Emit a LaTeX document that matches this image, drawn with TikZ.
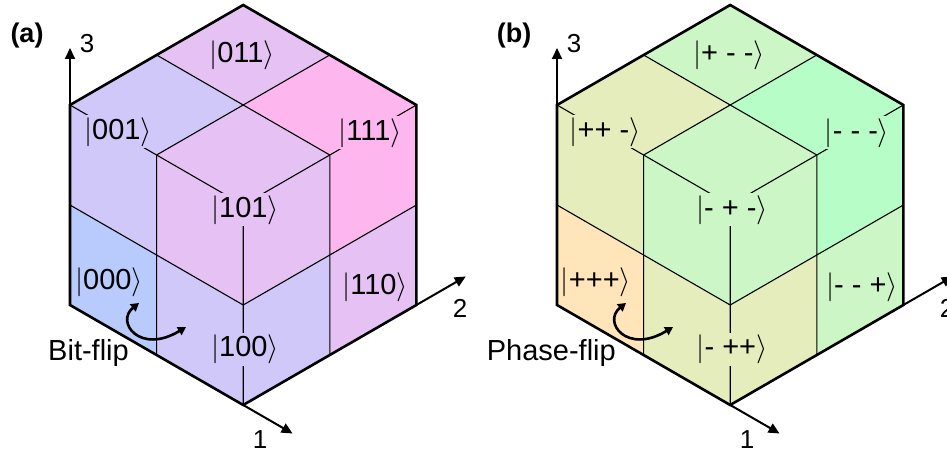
\RequirePackage{fix-cm}
\documentclass[tikz,border=0pt]{standalone}
\usepackage{fontspec}
\setmainfont{Liberation Sans}
\usetikzlibrary{arrows.meta}
\definecolor{aA}{HTML}{B9CBFC}
\definecolor{aB}{HTML}{CFC8F8}
\definecolor{aC}{HTML}{E6C1F3}
\definecolor{aD}{HTML}{FDB7EE}
\definecolor{bA}{HTML}{FFE5B9}
\definecolor{bB}{HTML}{E5EDBC}
\definecolor{bC}{HTML}{CCF6C5}
\definecolor{bD}{HTML}{B7FDC7}
\newcommand\ket[1]{$|$#1$\rangle$}
\tikzset{
  iso/.style={shift={(70pt,148pt)}, x={(86.6pt,-50pt)}, y={(86.6pt,50pt)}, z={(0pt,100pt)}},
  gridline/.style={line width=1.1pt, draw=black},
  outline/.style={line width=2.6pt, draw=black, line join=miter},
  axisarrow/.style={line width=2pt, -{Triangle[length=11pt,width=10pt]}},
  fliparrow/.style={line width=2.6pt, {Triangle[length=8pt,width=9pt]}-{Triangle[length=8pt,width=9pt]}},
  ket/.style={inner sep=2pt, font=\fontsize{29}{31}\selectfont},
  axlabel/.style={inner sep=0pt, font=\fontsize{26}{28}\selectfont},
  paneltag/.style={inner sep=0pt, font=\fontsize{27}{29}\selectfont\bfseries},
  fliptext/.style={inner sep=0pt, font=\fontsize{29}{31}\selectfont},
}
\newcommand\cubepanel[9]{%
  \begin{scope}[iso]
    \coordinate (LL) at (0,0,0);
    \coordinate (B) at (2,0,0);
    \coordinate (LR) at (2,2,0);
    \coordinate (UR) at (2,2,2);
    \coordinate (T) at (0,2,2);
    \coordinate (UL) at (0,0,2);
    \coordinate (C) at (2,0,2);
    \coordinate (ax1) at (2.57,0,0);
    \coordinate (ax2) at (2,2.57,0);
    \coordinate (ax3) at (0,0,2.57);
    % top face
    \fill[cB] (0,0,2) -- (1,0,2) -- (1,1,2) -- (0,1,2) -- cycle;
    \fill[cC] (0,1,2) -- (1,1,2) -- (1,2,2) -- (0,2,2) -- cycle;
    \fill[cC] (1,0,2) -- (2,0,2) -- (2,1,2) -- (1,1,2) -- cycle;
    \fill[cD] (1,1,2) -- (2,1,2) -- (2,2,2) -- (1,2,2) -- cycle;
    % left face
    \fill[cA] (0,0,0) -- (1,0,0) -- (1,0,1) -- (0,0,1) -- cycle;
    \fill[cB] (0,0,1) -- (1,0,1) -- (1,0,2) -- (0,0,2) -- cycle;
    \fill[cB] (1,0,0) -- (2,0,0) -- (2,0,1) -- (1,0,1) -- cycle;
    \fill[cC] (1,0,1) -- (2,0,1) -- (2,0,2) -- (1,0,2) -- cycle;
    % right face
    \fill[cB] (2,0,0) -- (2,1,0) -- (2,1,1) -- (2,0,1) -- cycle;
    \fill[cC] (2,0,1) -- (2,1,1) -- (2,1,2) -- (2,0,2) -- cycle;
    \fill[cC] (2,1,0) -- (2,2,0) -- (2,2,1) -- (2,1,1) -- cycle;
    \fill[cD] (2,1,1) -- (2,2,1) -- (2,2,2) -- (2,1,2) -- cycle;
    % grid lines
    \draw[gridline] (1,0,2) -- (1,2,2) (0,1,2) -- (2,1,2);
    \draw[gridline] (1,0,0) -- (1,0,2) (0,0,1) -- (2,0,1);
    \draw[gridline] (2,1,0) -- (2,1,2) (2,0,1) -- (2,2,1);
    \draw[gridline] (UL) -- (C) -- (UR) (C) -- (B);
  \end{scope}
  % state labels
  \node[ket, fill=cA] (k000) at (109,171) {\ket{#2}};
  \node[ket, fill=cB] (k001) at (118,321) {\ket{#3}};
  \node[ket, fill=cC] (k011) at (242,398) {\ket{#4}};
  \node[ket, fill=cD] (k111) at (370,320) {\ket{#5}};
  \node[ket, fill=cC] (k101) at (245,243) {\ket{#6}};
  \node[ket, fill=cB] (k100) at (245,104) {\ket{#7}};
  \node[ket, fill=cC] (k110) at (375,166) {\ket{#8}};
  % outline and axes
  \draw[outline] (LL) -- (B) -- (LR) -- (UR) -- (T) -- (UL) -- cycle;
  \draw[axisarrow] (B) -- (ax1);
  \draw[axisarrow] (LR) -- (ax2);
  \draw[axisarrow] (UL) -- (ax3);
  \node[axlabel] (n1) at (260,13) {1};
  \node[axlabel] (n2) at (460,145) {2};
  \node[axlabel] (n3) at (87,409) {3};
  \node[paneltag] (tag) at (27,417) {#1};
  % flip arrow
  \coordinate (f0) at (139,150);
  \coordinate (f1) at (186,126);
  \draw[fliparrow] (f0) .. controls (115,131) and (140,98) .. (f1);
  \node[fliptext, anchor=base east] (flip) at (129,93) {#9};
}
\begin{document}
\begin{tikzpicture}[x=1pt,y=1pt]
  \useasboundingbox (0,0) rectangle (947,453);
  \clip (0,0) rectangle (947,453);
  \begin{scope}[name prefix=a-]
    \colorlet{cA}{aA}\colorlet{cB}{aB}\colorlet{cC}{aC}\colorlet{cD}{aD}
    \cubepanel{(a)}{000}{001}{011}{111}{101}{100}{110}{Bit-flip}
  \end{scope}
  \begin{scope}[name prefix=b-, xshift=487pt]
    \colorlet{cA}{bA}\colorlet{cB}{bB}\colorlet{cC}{bC}\colorlet{cD}{bD}
    \cubepanel{(b)}{+++}{++ -}{+ - -}{- - -}{- + -}{- ++}{- - +}{Phase-flip}
  \end{scope}
\end{tikzpicture}
\end{document}
